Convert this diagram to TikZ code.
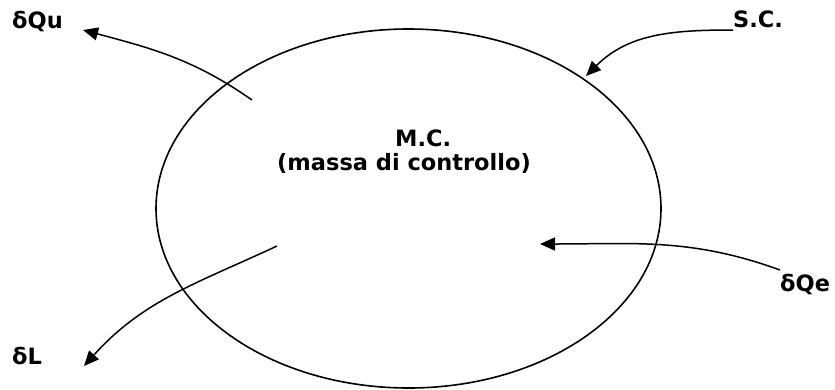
\documentclass[tikz,border=0pt]{standalone}
\usepackage{fontspec}
\setmainfont{DejaVu Sans}
\usetikzlibrary{arrows.meta,shapes.geometric}

\begin{document}
\begin{tikzpicture}[x=1pt,y=-1pt,
    flusso/.style={line width=1.5pt,-{Triangle[length=15pt,width=13pt]}},
    etichetta/.style={inner sep=0pt,anchor=base west,font=\fontsize{22.5}{27}\selectfont\bfseries}]
  \useasboundingbox (0,0) rectangle (835,389);

  % Control surface
  \node[draw,ellipse,line width=1.6pt,inner sep=0pt,
        minimum width=505pt,minimum height=359pt] (sc) at (408.5,208.5) {};

  % Labels
  \node[etichetta] (mc) at (395,146) {M.C.};
  \node[etichetta] (massa) at (277,170) {(massa di controllo)};
  \node[etichetta] (scl) at (733,27) {S.C.};
  \node[etichetta] (qu) at (12,28) {δQu};
  \node[etichetta] (qe) at (780,291) {δQe};
  \node[etichetta] (lav) at (12,364) {δL};

  % Ends of the arrows
  \coordinate (qu0) at (252,100);
  \coordinate (qu1) at (83,30);
  \coordinate (sc0) at (733,30);
  \coordinate (sc1) at (586,76);
  \coordinate (qe0) at (780,270);
  \coordinate (qe1) at (540,244);
  \coordinate (lav0) at (277,246);
  \coordinate (lav1) at (84,366);

  % Arrows
  \draw[flusso] (qu0) to[out=145,in=-15] (qu1);
  \draw[flusso] (sc0) to[out=180,in=45] (sc1);
  \draw[flusso] (qe0) to[out=160,in=0] (qe1);
  \draw[flusso] (lav0) to[out=205,in=48] (lav1);
\end{tikzpicture}
\end{document}
